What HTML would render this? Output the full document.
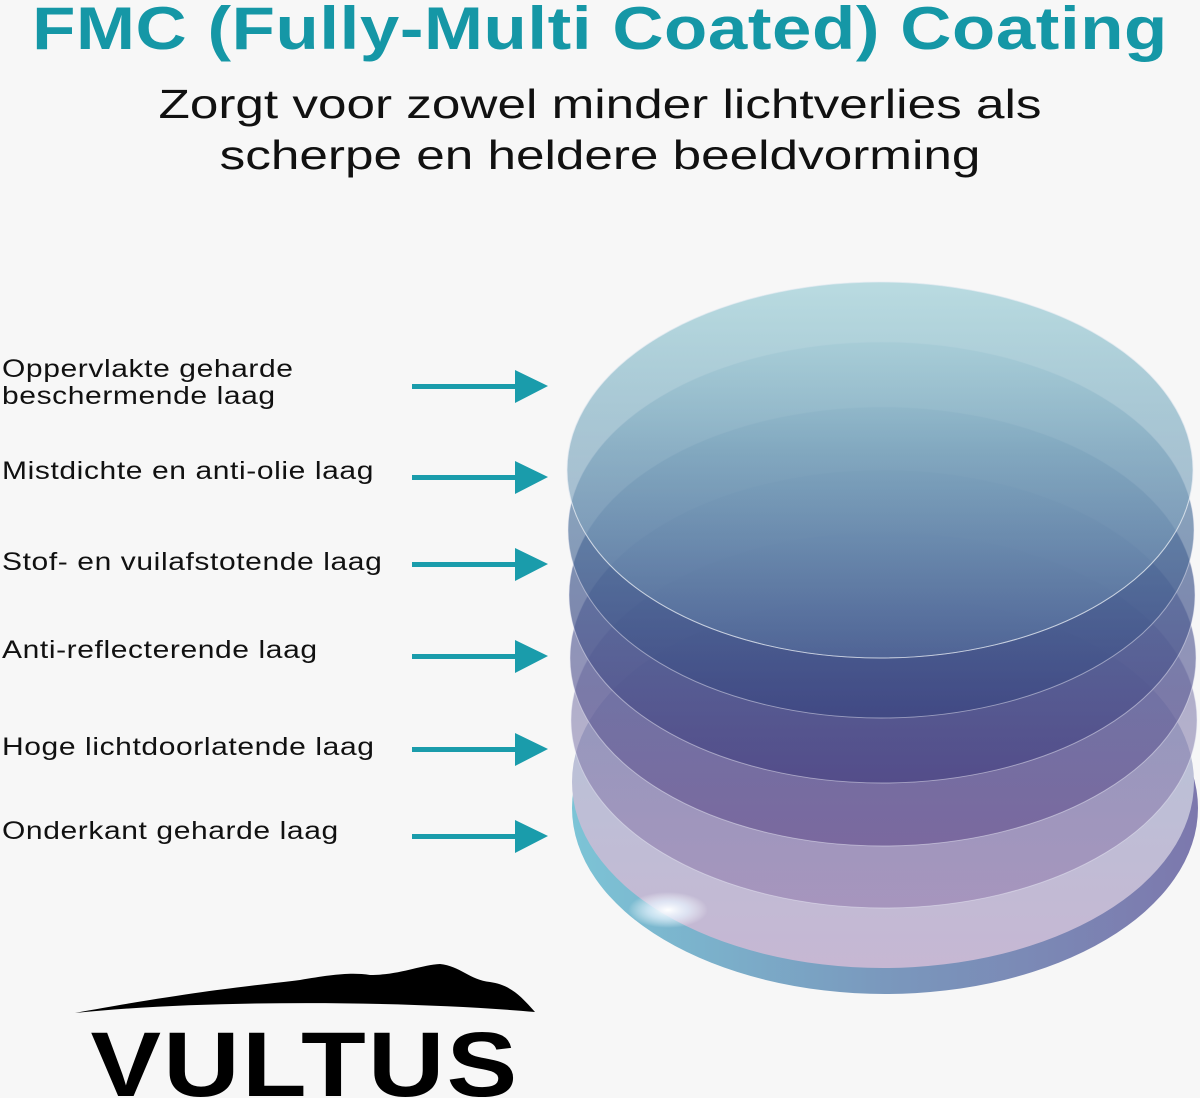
<!DOCTYPE html>
<html><head><meta charset="utf-8"><style>
body{margin:0;width:1200px;height:1098px;background:#f7f7f7;position:relative;overflow:hidden;font-family:"Liberation Sans",sans-serif}
.t{position:absolute;left:0;width:1200px;text-align:center;white-space:nowrap}
.l{position:absolute;left:2px;font-size:25px;color:#111;line-height:27px;letter-spacing:0.5px;transform:scaleX(1.2);transform-origin:0 0;white-space:nowrap}
</style></head><body>
<div class="t" style="top:-6px;font-size:60px;font-weight:bold;color:#1597a6;transform:scaleX(1.18);letter-spacing:0.5px">FMC (Fully-Multi Coated) Coating</div>
<div class="t" style="top:79px;font-size:41px;color:#111;line-height:51px;transform:scaleX(1.25)">Zorgt voor zowel minder lichtverlies als<br>scherpe en heldere beeldvorming</div>
<div class="l" style="top:356px">Oppervlakte geharde<br>beschermende laag</div>
<div class="l" style="top:458px">Mistdichte en anti-olie laag</div>
<div class="l" style="top:549px">Stof- en vuilafstotende laag</div>
<div class="l" style="top:637px">Anti-reflecterende laag</div>
<div class="l" style="top:734px">Hoge lichtdoorlatende laag</div>
<div class="l" style="top:818px">Onderkant geharde laag</div>
<svg width="1200" height="1098" style="position:absolute;left:0;top:0">
<defs>
<linearGradient id="e" x1="0" x2="1"><stop offset="0" stop-color="#7cc4d6"/><stop offset=".5" stop-color="#7a98bd"/><stop offset="1" stop-color="#7c78ad"/></linearGradient>
<linearGradient id="g0" x1="0" y1="0" x2="0" y2="1"><stop offset="0" stop-color="#b3c8da"/><stop offset="1" stop-color="#c6b7d3"/></linearGradient>
<linearGradient id="g1" x1="0" y1="0" x2="0" y2="1"><stop offset="0" stop-color="#bcdde2" stop-opacity=".9"/><stop offset=".45" stop-color="#a8cbd6" stop-opacity=".35"/><stop offset="1" stop-color="#8aa0c0" stop-opacity=".1"/></linearGradient>
<linearGradient id="g2" x1="0" y1="0" x2="0" y2="1"><stop offset="0" stop-color="#8fc0cd" stop-opacity=".8"/><stop offset="1" stop-color="#4d6a9a" stop-opacity=".35"/></linearGradient>
<linearGradient id="g3" x1="0" y1="0" x2="0" y2="1"><stop offset="0" stop-color="#6ea6bd" stop-opacity=".75"/><stop offset="1" stop-color="#34407c" stop-opacity=".6"/></linearGradient>
<linearGradient id="g4" x1="0" y1="0" x2="0" y2="1"><stop offset="0" stop-color="#5b86a9" stop-opacity=".75"/><stop offset="1" stop-color="#453f80" stop-opacity=".7"/></linearGradient>
<linearGradient id="g5" x1="0" y1="0" x2="0" y2="1"><stop offset="0" stop-color="#5a78a6" stop-opacity=".7"/><stop offset="1" stop-color="#65508e" stop-opacity=".65"/></linearGradient>
<linearGradient id="g6" x1="0" y1="0" x2="0" y2="1"><stop offset="0" stop-color="#6b7aa8" stop-opacity=".6"/><stop offset="1" stop-color="#8a70a6" stop-opacity=".5"/></linearGradient>
<radialGradient id="sh"><stop offset="0" stop-color="#fff"/><stop offset=".5" stop-color="#e8f4ff" stop-opacity=".7"/><stop offset="1" stop-color="#fff" stop-opacity="0"/></radialGradient>
</defs>
<g fill="#1a9cab">
<rect x="412" y="384" width="110" height="5"/><polygon points="515,370 548,386 515,403"/>
<rect x="412" y="475" width="110" height="5"/><polygon points="515,461 548,477 515,494"/>
<rect x="412" y="562" width="110" height="5"/><polygon points="515,548 548,564 515,581"/>
<rect x="412" y="654" width="110" height="5"/><polygon points="515,640 548,656 515,673"/>
<rect x="412" y="747" width="110" height="5"/><polygon points="515,733 548,749 515,766"/>
<rect x="412" y="834" width="110" height="5"/><polygon points="515,820 548,836 515,853"/>
</g>
<ellipse cx="885" cy="808" rx="313" ry="186" fill="url(#e)"/>
<ellipse cx="883" cy="782" rx="311" ry="186" fill="url(#g0)"/>
<ellipse cx="884" cy="720" rx="313" ry="188" fill="url(#g6)" stroke="#e8e8f4" stroke-opacity=".5"/>
<ellipse cx="883" cy="658" rx="313" ry="188" fill="url(#g5)" stroke="#e8e8f4" stroke-opacity=".5"/>
<ellipse cx="882" cy="595" rx="313" ry="188" fill="url(#g4)" stroke="#e8e8f4" stroke-opacity=".5"/>
<ellipse cx="881" cy="530" rx="313" ry="188" fill="url(#g3)" stroke="#e8e8f4" stroke-opacity=".5"/>
<ellipse cx="880" cy="470" rx="313" ry="188" fill="url(#g2)" stroke="#e8e8f4" stroke-opacity=".5"/>
<ellipse cx="880" cy="470" rx="313" ry="188" fill="url(#g1)" stroke="#e8eef4" stroke-opacity=".6"/>
<ellipse cx="668" cy="910" rx="40" ry="18" fill="url(#sh)"/>
<path d="M75 1013 C200 990 260 985 300 980 C330 975 350 972 370 975 C400 975 420 965 440 964 C460 966 470 980 490 982 C510 985 520 995 535 1012 C400 1000 200 1000 75 1013Z" fill="#000"/>
<text x="305" y="1096" text-anchor="middle" font-family="Liberation Sans,sans-serif" font-weight="bold" font-size="92" letter-spacing="2" fill="#000" transform="translate(305,0) scale(1.15,1) translate(-305,0)">VULTUS</text>
</svg>
</body></html>
